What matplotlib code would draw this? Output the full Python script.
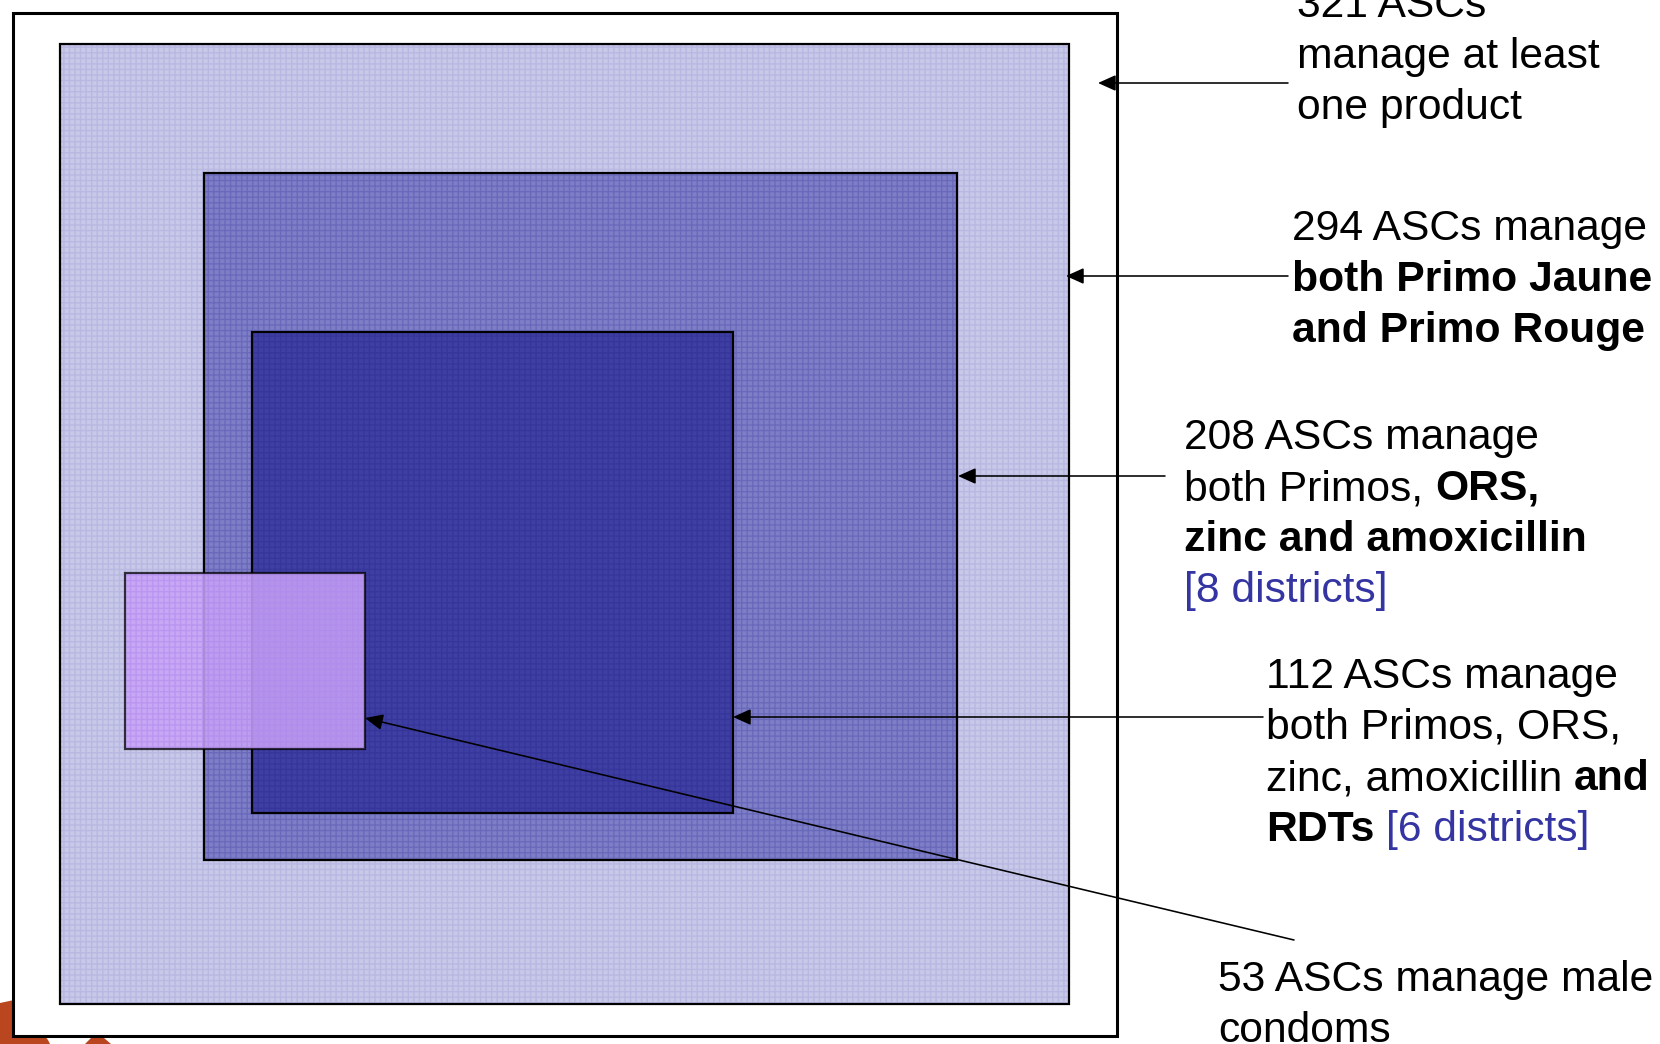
import matplotlib.pyplot as plt
from matplotlib.patches import Rectangle, Polygon

plt.rcParams['font.family'] = ['Liberation Sans', 'DejaVu Sans']

# ASC counts per group of products, outer to inner
counts = [321, 294, 208, 112, 53]
districts = [None, None, 8, 6, None]

# nested boxes (x0, y0, x1, y1) in pixel space, y downwards
boxes = [
    (13, 13, 1117, 1036),
    (60, 44, 1069, 1004),
    (204, 173, 957, 860),
    (252, 332, 733, 813),
    (125, 573, 365, 749),
]
fills = ['white', '#c8c8e9', '#7e7ec7', '#3f3fa3', '#c8a3f8']
hatch_cols = [None, '#a9a9dc', '#5656b0', '#2e2e92', '#b088ee']

# arrow from the label back to its box
arrows = [
    ((1288, 83), (1098, 83)),
    ((1288, 276), (1066, 276)),
    ((1165, 476), (958, 476)),
    ((1263, 717), (733, 717)),
    ((1294, 940), (365, 718)),
]

BLUE = '#3434a2'
FS = 30.7
LH = 51

labels = [
    (1297, 17, [[(f'{counts[0]} ASCs', 'n')],
                [('manage at least', 'n')],
                [('one product', 'n')]]),
    (1292, 240, [[(f'{counts[1]} ASCs manage', 'n')],
                 [('both Primo Jaune', 'b')],
                 [('and Primo Rouge', 'b')]]),
    (1184, 449, [[(f'{counts[2]} ASCs manage', 'n')],
                 [('both Primos,', 'n'), (' ORS,', 'b')],
                 [('zinc and amoxicillin', 'b')],
                 [(f'[{districts[2]} districts]', 'c')]]),
    (1266, 688, [[(f'{counts[3]} ASCs manage', 'n')],
                 [('both Primos, ORS,', 'n')],
                 [('zinc, amoxicillin', 'n'), (' and', 'b')],
                 [('RDTs', 'b'), (f' [{districts[3]} districts]', 'c')]]),
    (1218, 991, [[(f'{counts[4]} ASCs manage male', 'n')],
                 [('condoms', 'n')]]),
]

fig = plt.figure(figsize=(16.6, 10.44), dpi=100)
ax = fig.add_axes([0, 0, 1, 1])
ax.set_xlim(0, 1660)
ax.set_ylim(1044, 0)
ax.axis('off')

# bits of the slide logo peeking in at the bottom left
ax.add_patch(Polygon([(0, 1003), (14, 1000), (30, 1008), (38, 1016), (46, 1024),
                      (40, 1030), (48, 1040), (50, 1044), (0, 1044)],
                     closed=True, fc='#b9461f', ec='none', zorder=0))
ax.add_patch(Polygon([(85, 1044), (91, 1038), (97, 1034), (104, 1038), (111, 1044)],
                     closed=True, fc='#b9461f', ec='none', zorder=0))

for i, (x0, y0, x1, y1) in enumerate(boxes):
    lw = 2.2 if i == 0 else 1.6
    alpha = 0.86 if i == 4 else 1
    ax.add_patch(Rectangle((x0, y0), x1 - x0, y1 - y0, fc=fills[i], ec='none',
                           alpha=alpha, zorder=1 + i * 3))
    if hatch_cols[i]:
        ax.add_patch(Rectangle((x0, y0), x1 - x0, y1 - y0, fill=False,
                               ec=hatch_cols[i], lw=0, hatch='+++',
                               alpha=0.5, zorder=2 + i * 3))
    ax.add_patch(Rectangle((x0, y0), x1 - x0, y1 - y0, fill=False, ec='black',
                           lw=lw, alpha=0.75 if i == 4 else 1, zorder=3 + i * 3))

for start, tip in arrows:
    ax.annotate('', xy=tip, xytext=start,
                arrowprops=dict(arrowstyle='-|>,head_length=0.6,head_width=0.27',
                                mutation_scale=18, color='black', lw=1.15,
                                shrinkA=0, shrinkB=0),
                zorder=20)

renderer = fig.canvas.get_renderer()
space = FS / 72 * 100 * 0.278
for x, y, lines in labels:
    for k, runs in enumerate(lines):
        cx = x
        for text, style in runs:
            if text.startswith(' '):
                cx += space
                text = text.lstrip()
            t = ax.text(cx, y + k * LH, text, fontsize=FS, va='baseline', ha='left',
                        fontweight='bold' if style == 'b' else 'normal',
                        color=BLUE if style == 'c' else 'black', zorder=21)
            cx += t.get_window_extent(renderer).width

fig.savefig('out.png', dpi=100)
